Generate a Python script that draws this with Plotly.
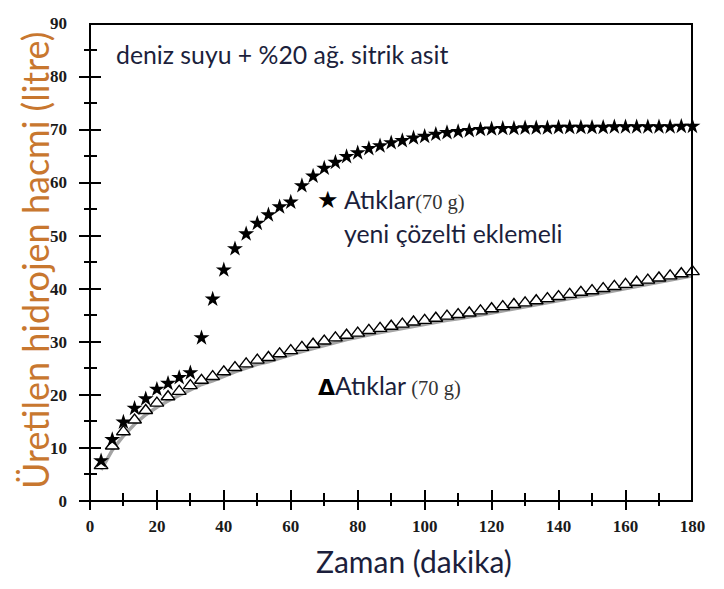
import plotly.graph_objects as go

# sampling times (minutes), one reading every 200 s
time_min = [3.33, 6.67, 10.0, 13.33, 16.67, 20.0, 23.33, 26.67, 30.0, 33.33,
            36.67, 40.0, 43.33, 46.67, 50.0, 53.33, 56.67, 60.0, 63.33, 66.67,
            70.0, 73.33, 76.67, 80.0, 83.33, 86.67, 90.0, 93.33, 96.67, 100.0,
            103.33, 106.67, 110.0, 113.33, 116.67, 120.0, 123.33, 126.67, 130.0, 133.33,
            136.67, 140.0, 143.33, 146.67, 150.0, 153.33, 156.67, 160.0, 163.33, 166.67,
            170.0, 173.33, 176.67, 180.0]

# waste (70 g) with fresh solution added
h2_refill = [7.5, 11.5, 14.8, 17.4, 19.2, 21.0, 22.1, 23.2, 24.1, 30.7,
             38.0, 43.5, 47.5, 50.3, 52.3, 53.9, 55.4, 56.3, 59.4, 61.2,
             62.7, 63.8, 64.9, 65.6, 66.4, 66.9, 67.5, 67.9, 68.4, 68.7,
             69.1, 69.4, 69.6, 69.8, 70.0, 70.1, 70.2, 70.2, 70.3, 70.3,
             70.3, 70.4, 70.4, 70.4, 70.4, 70.4, 70.5, 70.5, 70.5, 70.5,
             70.5, 70.5, 70.6, 70.6]

# waste (70 g) without refill
h2_single = [6.6, 10.3, 13.0, 15.2, 17.0, 18.4, 19.6, 20.6, 21.7, 22.7,
             23.4, 24.3, 25.1, 25.8, 26.5, 27.0, 27.7, 28.3, 28.9, 29.5,
             30.1, 30.7, 31.2, 31.6, 32.1, 32.5, 32.9, 33.3, 33.7, 34.0,
             34.4, 34.8, 35.1, 35.4, 35.8, 36.2, 36.6, 37.0, 37.3, 37.7,
             38.1, 38.5, 38.9, 39.3, 39.6, 40.0, 40.4, 40.8, 41.2, 41.6,
             42.0, 42.4, 42.8, 43.2]

x_ticks = [0, 20, 40, 60, 80, 100, 120, 140, 160, 180]
y_ticks = [0, 10, 20, 30, 40, 50, 60, 70, 80, 90]
x_minor = [10, 30, 50, 70, 90, 110, 130, 150, 170]
y_minor = [5, 15, 25, 35, 45, 55, 65, 75, 85]

X_RANGE = [0, 180]
Y_RANGE = [0, 90]

SANS = "Lato"
SERIF = "Liberation Serif"
NAVY = "#1c1f3c"

# ---- page geometry (pixels) ----
W, H = 724, 589
LEFT, RIGHT, TOP, BOTTOM = 88, 705, 15, 508       # frame of the plot
SX = (RIGHT - LEFT) / (X_RANGE[1] - X_RANGE[0])   # px per minute
SY = (BOTTOM - TOP) / (Y_RANGE[1] - Y_RANGE[0])   # px per litre


def fx(px):
    return px / W


def fy(py):
    return (H - py) / H


def x_span(px0, px1):
    """Domain and matching range for an x axis covering px0..px1."""
    return dict(domain=[fx(px0), fx(px1)],
                range=[X_RANGE[0] - (LEFT - px0) / SX,
                       X_RANGE[1] + (px1 - RIGHT) / SX])


def y_span(py_bottom, py_top):
    """Domain and matching range for a y axis covering py_bottom..py_top."""
    return dict(domain=[fy(py_bottom), fy(py_top)],
                range=[Y_RANGE[0] - (py_bottom - BOTTOM) / SY,
                       Y_RANGE[1] + (TOP - py_top) / SY])


# the grey guide line sits along the triangle bases, a little under the centres
BASE_DROP = 0.8
h2_single_base = [v - BASE_DROP for v in h2_single]

fig = go.Figure()

fig.add_trace(go.Scatter(
    x=time_min, y=h2_single_base, mode="lines",
    line=dict(color="#a4a4a4", width=3.5), hoverinfo="skip", showlegend=False))

fig.add_trace(go.Scatter(
    x=time_min, y=h2_single, mode="markers", cliponaxis=False,
    marker=dict(symbol="triangle-up", size=12, color="white",
                line=dict(color="black", width=1.4)),
    showlegend=False))

fig.add_trace(go.Scatter(
    x=time_min, y=h2_refill, mode="markers", cliponaxis=False,
    marker=dict(symbol="star", size=12, color="black"),
    showlegend=False))

# invisible anchors so every helper frame gets drawn
for k in range(2, 7):
    fig.add_trace(go.Scatter(
        x=[x_ticks[0]], y=[y_ticks[0]], mode="markers",
        xaxis=f"x{k}", yaxis=f"y{k}", marker=dict(size=1, opacity=0),
        hoverinfo="skip", showlegend=False))

bare = dict(showgrid=False, zeroline=False, showline=False,
            showticklabels=False, ticks="", fixedrange=True)
tick_font = dict(family=SERIF, size=17, color="#1a1a1a", weight="bold")

fig.update_layout(
    width=W, height=H,
    margin=dict(l=0, r=0, t=0, b=0),
    paper_bgcolor="white", plot_bgcolor="rgba(0,0,0,0)",
    # data frame with tick labels
    xaxis=dict(x_span(LEFT, RIGHT), anchor="y", tickvals=x_ticks,
               showgrid=False, zeroline=False, showline=False, ticks="",
               tickfont=tick_font, ticklabelstandoff=13),
    yaxis=dict(y_span(BOTTOM, TOP), anchor="x", tickvals=y_ticks,
               showgrid=False, zeroline=False, showline=False, ticks="",
               tickfont=tick_font, ticklabelstandoff=22),
    # left and right frame lines (vertical grid lines at the x limits)
    xaxis2=dict(bare, **x_span(0, W), anchor="y2", showgrid=True,
                tickvals=X_RANGE, gridcolor="black", gridwidth=2),
    yaxis2=dict(bare, domain=[fy(BOTTOM + 1), fy(TOP - 1)], range=[0, 1],
                anchor="x2"),
    # bottom and top frame lines (horizontal grid lines at the y limits)
    xaxis3=dict(bare, domain=[fx(LEFT - 1), fx(RIGHT + 1)], range=[0, 1],
                anchor="y3"),
    yaxis3=dict(bare, **y_span(H, 0), anchor="x3", showgrid=True,
                tickvals=Y_RANGE, gridcolor="black", gridwidth=2),
    # major ticks crossing the axes
    xaxis4=dict(bare, **x_span(LEFT - 11, RIGHT), anchor="y4", ticks="inside",
                tickvals=x_ticks, ticklen=20, tickwidth=2, tickcolor="black"),
    yaxis4=dict(bare, **y_span(BOTTOM + 10, TOP), anchor="x4", ticks="inside",
                tickvals=y_ticks, ticklen=22, tickwidth=2, tickcolor="black"),
    # minor ticks crossing the axes
    xaxis5=dict(bare, **x_span(LEFT - 6, RIGHT), anchor="y5", ticks="inside",
                tickvals=x_minor, ticklen=13, tickwidth=1.6, tickcolor="black"),
    yaxis5=dict(bare, **y_span(BOTTOM + 6, TOP), anchor="x5", ticks="inside",
                tickvals=y_minor, ticklen=13, tickwidth=1.6, tickcolor="black"),
    xaxis6=dict(bare, **x_span(LEFT, RIGHT), anchor="y6"),
    yaxis6=dict(bare, **y_span(BOTTOM, TOP), anchor="x6"),
)

annotations = [
    # axis titles
    dict(text="Üretilen hidrojen hacmi (litre)", xref="paper", yref="paper",
         x=fx(31), y=fy(260), xanchor="center", yanchor="middle", textangle=-90,
         showarrow=False, font=dict(family=SANS, size=36, color="#c8772f")),
    dict(text="Zaman (dakika)", xref="paper", yref="paper",
         x=fx(420), y=fy(570), xanchor="center", yanchor="middle",
         showarrow=False, font=dict(family=SANS, size=30, color=NAVY)),
    # solution note
    dict(text="deniz suyu + %20 ağ. sitrik asit", xref="x", yref="y",
         x=7.2, y=84.2, xanchor="left", yanchor="middle", showarrow=False,
         font=dict(family=SANS, size=24.8, color=NAVY)),
    # series labels
    dict(text="★", xref="x", yref="y", x=71.2, y=56.7, xanchor="center",
         yanchor="middle", showarrow=False,
         font=dict(family="DejaVu Sans", size=24, color="black")),
    dict(text=("<span style='font-family:Lato'>Atıklar</span>"
               "<span style='font-family:Liberation Serif;font-size:20.5px;color:#333'>(70 g)</span>"),
         xref="x", yref="y", x=75.4, y=56.8, xanchor="left", yanchor="middle",
         showarrow=False, font=dict(family=SANS, size=24.8, color=NAVY)),
    dict(text="yeni çözelti eklemeli", xref="x", yref="y",
         x=75.4, y=50.4, xanchor="left", yanchor="middle", showarrow=False,
         font=dict(family=SANS, size=24.8, color=NAVY)),
    dict(text=("<span style='font-family:DejaVu Sans;font-size:22px;color:black'><b>Δ</b></span>"
               "<span style='font-family:Lato'>Atıklar</span>"
               "<span style='font-family:Liberation Serif;font-size:20.5px;color:#333'> (70 g)</span>"),
         xref="x", yref="y", x=67.6, y=21.7, xanchor="left", yanchor="middle",
         showarrow=False, font=dict(family=SANS, size=24.8, color=NAVY)),
]
fig.update_layout(annotations=annotations)

fig.write_html("out.html")
